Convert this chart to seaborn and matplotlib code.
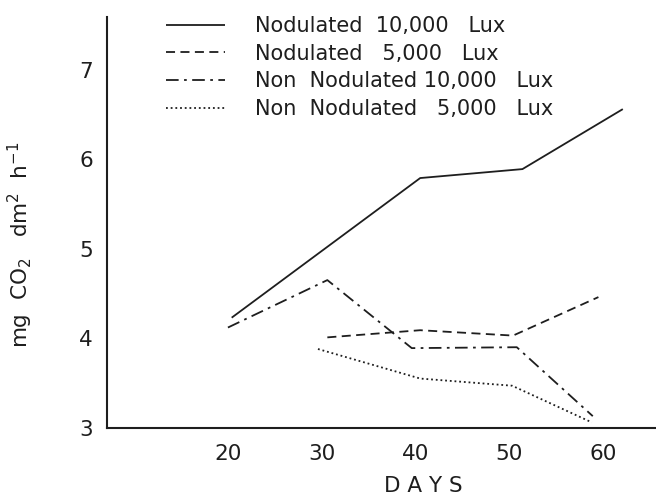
import matplotlib
matplotlib.use("Agg")
import matplotlib.pyplot as plt
import seaborn as sns
import pandas as pd

# Values (days, mg CO2 dm^2 h^-1)
nod_10k_days = [20.4, 40.5, 51.4, 62.1]
nod_10k_vals = [4.23, 5.79, 5.89, 6.56]

nod_5k_days = [30.6, 40.5, 50.4, 59.5]
nod_5k_vals = [4.01, 4.09, 4.03, 4.46]

non_10k_days = [20.0, 30.6, 39.6, 50.8, 58.9]
non_10k_vals = [4.12, 4.65, 3.89, 3.90, 3.13]

non_5k_days = [29.6, 40.5, 50.3, 58.8]
non_5k_vals = [3.88, 3.55, 3.47, 3.06]

series_names = [
    "Nodulated  10,000   Lux",
    "Nodulated   5,000   Lux",
    "Non  Nodulated 10,000   Lux",
    "Non  Nodulated   5,000   Lux",
]
x_ticks = [20, 30, 40, 50, 60]
y_ticks = [3, 4, 5, 6, 7]

sns.set_theme(style="white")
plt.rcParams["font.family"] = ["DejaVu Sans"]

ink = "#1e1e1e"
styles = [
    (0, ()),
    (0, (5, 3)),
    (0, (7, 3, 1.5, 3)),
    (0, (1, 1.6)),
]

fig = plt.figure(figsize=(6.56, 4.98), dpi=100)
ax = fig.add_axes([0.163, 0.141, 0.835, 0.825])

all_days = [nod_10k_days, nod_5k_days, non_10k_days, non_5k_days]
all_vals = [nod_10k_vals, nod_5k_vals, non_10k_vals, non_5k_vals]
for name, d, v, ls in zip(series_names, all_days, all_vals, styles):
    df = pd.DataFrame({"days": d, "rate": v})
    sns.lineplot(data=df, x="days", y="rate", ax=ax, color=ink,
                 linewidth=1.3, linestyle=ls, label=name, sort=False)

ax.set_xlim(7.1, 65.5)
ax.set_ylim(3, 7.59)
ax.set_xticks(x_ticks)
ax.set_yticks(y_ticks)
ax.tick_params(axis="x", direction="in", length=17, width=1.3, pad=12,
               labelsize=15.5, colors=ink)
ax.tick_params(axis="y", direction="in", length=15, width=1.1, pad=10,
               labelsize=15.5, colors=ink)

for side in ["top", "right"]:
    ax.spines[side].set_visible(False)
for side in ["left", "bottom"]:
    ax.spines[side].set_color(ink)
    ax.spines[side].set_linewidth(1.5)

ax.set_xlabel("D A Y S", fontsize=15.5, color=ink)
ax.xaxis.set_label_coords(0.578, -0.118)
ax.set_ylabel(r"mg  CO$_2$   dm$^2$  h$^{-1}$", fontsize=15.5, color=ink)
ax.yaxis.set_label_coords(-0.131, 0.445)

leg = ax.legend(loc="upper left", bbox_to_anchor=(0.093, 1.023), frameon=False,
                fontsize=15, handlelength=2.8, handletextpad=1.45,
                labelspacing=0.37, borderaxespad=0)
for t in leg.get_texts():
    t.set_color(ink)

fig.savefig("out.png", dpi=100, facecolor="white")
